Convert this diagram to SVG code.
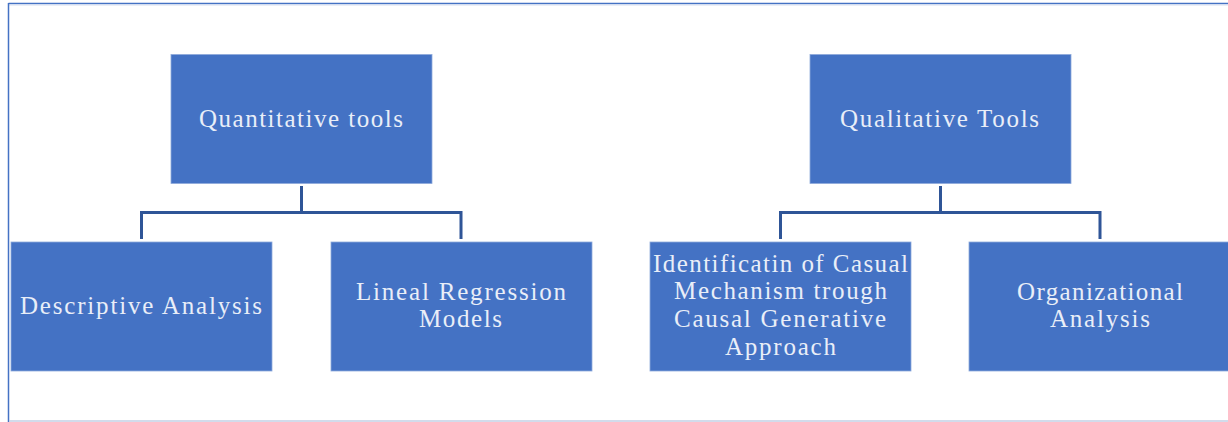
<svg xmlns="http://www.w3.org/2000/svg" width="1228" height="422" viewBox="0 0 1228 422">
<style>
.box{fill:#4472c4;stroke:#8eaadb;stroke-width:0.8}
.lbl{font-family:"Liberation Serif","DejaVu Serif",serif;font-size:25px;fill:#e9eef8;text-anchor:middle}
.conn{fill:none;stroke:#2f5597;stroke-width:3}
</style>
<rect x="0" y="0" width="1228" height="422" fill="#ffffff"/>
<g id="frame">
<line x1="8.5" y1="3.5" x2="1228" y2="3.5" stroke="#4472c4" stroke-width="1.5"/>
<line x1="9" y1="5" x2="1228" y2="5" stroke="#d6def0" stroke-width="1"/>
<line x1="8.5" y1="3" x2="8.5" y2="422" stroke="#4472c4" stroke-width="1.5"/>
<line x1="9" y1="421" x2="1228" y2="421" stroke="#c3cfe4" stroke-width="1.5"/>
</g>
<g id="connectors">
<path class="conn" d="M301.5 186 V212.5 M141.5 239 V212.5 H461 V239"/>
<path class="conn" d="M940.5 186 V212.5 M780.5 239 V212.5 H1100 V239"/>
</g>
<g id="quantitative">
<rect class="box" x="171" y="54.5" width="261" height="129"/>
<text class="lbl" x="301" y="126.5" textLength="204" lengthAdjust="spacing">Quantitative tools</text>
</g>
<g id="qualitative">
<rect class="box" x="810" y="54.5" width="261" height="129"/>
<text class="lbl" x="939.5" y="126.5" textLength="199" lengthAdjust="spacing">Qualitative Tools</text>
</g>
<g id="descriptive">
<rect class="box" x="11" y="242" width="261" height="129"/>
<text class="lbl" x="141" y="313.5" textLength="242" lengthAdjust="spacing">Descriptive Analysis</text>
</g>
<g id="lineal">
<rect class="box" x="331" y="242" width="261" height="129"/>
<text class="lbl" x="461" y="299.5" textLength="210" lengthAdjust="spacing">Lineal Regression</text>
<text class="lbl" x="460.5" y="327" textLength="83" lengthAdjust="spacing">Models</text>
</g>
<g id="identification">
<rect class="box" x="650" y="242" width="261" height="129"/>
<text class="lbl" x="780.5" y="271.7" textLength="255" lengthAdjust="spacing">Identificatin of Casual</text>
<text class="lbl" x="780.5" y="299.4" textLength="213" lengthAdjust="spacing">Mechanism trough</text>
<text class="lbl" x="780" y="327" textLength="212" lengthAdjust="spacing">Causal Generative</text>
<text class="lbl" x="780.5" y="354.7" textLength="111" lengthAdjust="spacing">Approach</text>
</g>
<g id="organizational">
<rect class="box" x="969" y="242" width="262" height="129"/>
<text class="lbl" x="1100" y="299.5" textLength="166" lengthAdjust="spacing">Organizational</text>
<text class="lbl" x="1100" y="327" textLength="100" lengthAdjust="spacing">Analysis</text>
</g>
</svg>
